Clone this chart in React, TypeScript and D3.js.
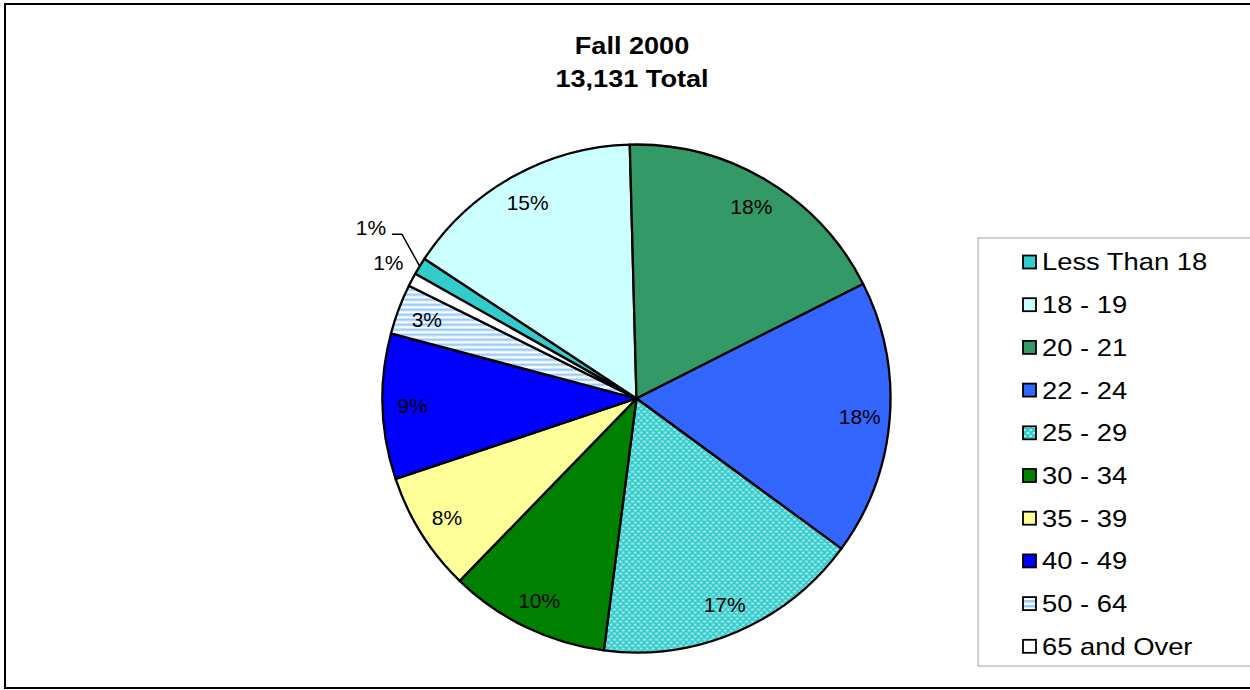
import React from "react";
import * as d3 from "d3";

const categories = ["Less Than 18", "18 - 19", "20 - 21", "22 - 24", "25 - 29", "30 - 34", "35 - 39", "40 - 49", "50 - 64", "65 and Over"];
const counts = [145, 2010, 2360, 2300, 2230, 1340, 1000, 1215, 420, 111];
const fills = ["#33CCCC", "#CCFFFF", "#339966", "#3366FF", "url(#dots)", "#008000", "#FFFF99", "#0000FF", "url(#stripes)", "#FFFFFF"];
const titleLines = ["Fall 2000", "13,131 Total"];

const W = 1250;
const H = 690;
const cx = 636.5;
const cy = 398.5;
const R = 254;
const startDeg = -60.6;
const TAU = Math.PI * 2;

export default function App() {
  const total = d3.sum(counts);
  const pie = d3
    .pie<number>()
    .sort(null)
    .value((d) => d)
    .startAngle((startDeg * Math.PI) / 180)
    .endAngle((startDeg * Math.PI) / 180 + TAU);
  const arcs = pie(counts);
  const arcGen = d3.arc<d3.PieArcDatum<number>>().innerRadius(0).outerRadius(R);
  const fmt = d3.format(".0%");

  const pt = (a: number, r: number) => [cx + r * Math.sin(a), cy - r * Math.cos(a)];
  const norm = (a: number) => ((a % TAU) + TAU) % TAU;

  // outside labels for tiny slices, ordered by (normalized) mid angle
  const small = arcs
    .map((a, i) => ({ a, i, mid: norm((a.startAngle + a.endAngle) / 2) }))
    .filter((o) => o.a.value / total < 0.015)
    .sort((p, q) => p.mid - q.mid);
  const outside = new Map<number, { x: number; y: number; leader: boolean; mid: number }>();
  small.forEach((o, k) => {
    const rr = R + 29 + k * 33;
    const [x, y] = pt(o.mid + (k ? 0.025 : 0.015), rr);
    outside.set(o.i, { x, y, leader: k > 0, mid: o.mid });
  });

  const legendX = 978;
  const legendY = 238;
  const legendStep = 42.7;
  const legendScale = 1.14;
  const titleScale = 1.13;

  return (
    <svg width={W} height={H} style={{ position: "absolute", left: 0, top: 0 }} fontFamily="'Liberation Sans', Arial, sans-serif">
      <defs>
        <pattern id="dots" width="6" height="6" patternUnits="userSpaceOnUse">
          <rect width="6" height="6" fill="#33CCCC" />
          <rect x="0.5" y="0.5" width="3" height="1.2" fill="#FFFFFF" />
          <rect x="3.5" y="3.5" width="3" height="1.2" fill="#FFFFFF" />
        </pattern>
        <pattern id="stripes" width="6" height="5" patternUnits="userSpaceOnUse">
          <rect width="6" height="5" fill="#FFFFFF" />
          <rect y="0" width="6" height="2.5" fill="#99CCFF" />
        </pattern>
      </defs>
      <rect width={W} height={H} fill="#FFFFFF" />
      <rect x={5} y={4} width={W + 10} height={684} fill="none" stroke="#000" strokeWidth={2} />

      {titleLines.map((t, i) => (
        <text
          key={t}
          x={0}
          y={0}
          textAnchor="middle"
          fontWeight="bold"
          fontSize={24}
          transform={`translate(632,${54 + i * 33}) scale(${titleScale},1)`}
        >
          {t}
        </text>
      ))}

      <g>
        {arcs.map((a, i) => (
          <path key={i} d={arcGen(a) || ""} transform={`translate(${cx},${cy})`} fill={fills[i]} stroke="#000" strokeWidth={2.3} strokeLinejoin="round" />
        ))}
      </g>

      <g fontSize={21}>
        {arcs.map((a, i) => {
          const label = fmt(a.value / total);
          const o = outside.get(i);
          if (o) {
            const [ex, ey] = pt(o.mid, R);
            return (
              <g key={i}>
                <text x={o.x} y={o.y} textAnchor="middle" dy="0.35em">
                  {label}
                </text>
                {o.leader && (
                  <polyline points={`${o.x + 21},${o.y + 7} ${o.x + 31},${o.y + 7} ${ex},${ey}`} fill="none" stroke="#000" strokeWidth={1.5} />
                )}
              </g>
            );
          }
          const mid = (a.startAngle + a.endAngle) / 2;
          const [x, y] = pt(mid, R - 30);
          return (
            <text key={i} x={x} y={y} textAnchor="middle" dy="0.35em">
              {label}
            </text>
          );
        })}
      </g>

      <g>
        <rect x={legendX} y={legendY} width={300} height={428} fill="#FFFFFF" stroke="#A0A0A0" strokeWidth={1} />
        {categories.map((c, i) => {
          const y = legendY + 24 + i * legendStep;
          return (
            <g key={c}>
              <rect x={1023} y={y - 6.5} width={13} height={13} fill={fills[i]} stroke="#000" strokeWidth={1.8} />
              <text x={0} y={0} dy="0.35em" fontSize={24} transform={`translate(1042,${y}) scale(${legendScale},1)`}>
                {c}
              </text>
            </g>
          );
        })}
      </g>
    </svg>
  );
}
